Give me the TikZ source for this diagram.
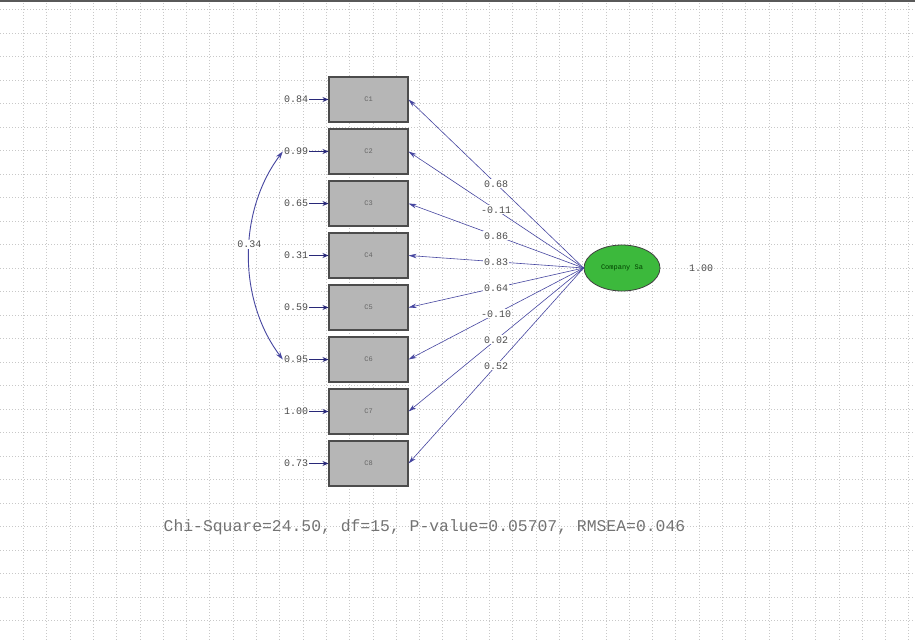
\documentclass[tikz,border=0pt]{standalone}
\usepackage{fontspec}
\newfontfamily\monofam{Liberation Mono}
\usetikzlibrary{arrows.meta,shapes.geometric}
\definecolor{arrowblue}{RGB}{70,70,160}
\definecolor{errblue}{RGB}{40,40,120}
\definecolor{boxgray}{RGB}{182,182,182}
\definecolor{latgreen}{RGB}{60,185,60}
\definecolor{gridgray}{RGB}{200,200,200}
\tikzset{
  obs/.style={draw=black!70, fill=boxgray, minimum width=79pt, minimum height=45pt,
    line width=1.1pt, inner sep=0pt, font=\monofam\fontsize{7}{8}\selectfont, text=black!60},
  errlab/.style={inner sep=1pt, font=\monofam\fontsize{10}{11}\selectfont, text=black!70},
  loadlab/.style={fill=white, inner sep=1pt, font=\monofam\fontsize{10}{11}\selectfont, text=black!70},
  latent/.style={ellipse, draw=black!75, fill=latgreen, minimum width=76pt, minimum height=46pt,
    inner sep=0pt, line width=0.8pt, font=\monofam\fontsize{7}{8}\selectfont, text=green!25!black},
  load/.style={draw=arrowblue, line width=0.6pt, -{Stealth[length=8pt,width=4.5pt]}},
  errarr/.style={draw=errblue, line width=1.3pt, -{Stealth[length=6pt,width=5pt]}},
  covarr/.style={draw=arrowblue, line width=0.9pt, {Stealth[length=8pt,width=5pt]}-{Stealth[length=8pt,width=5pt]}},
  gridline/.style={draw=gridgray, line width=0.5pt, dash pattern=on 1pt off 2pt}
}
\begin{document}
\begin{tikzpicture}[x=1pt,y=-1pt]
\useasboundingbox (0,0) rectangle (915,642);
\fill[white] (0,0) rectangle (915,642);
% grid
\foreach \k in {1,...,39} {\draw[gridline] ({23.3*\k},3) -- ({23.3*\k},642);}
\foreach \k in {0,...,27} {\draw[gridline] (0,{9.5+23.5*\k}) -- (915,{9.5+23.5*\k});}
\draw[black!65, line width=2pt] (0,1) -- (915,1);
% observed variables
\node[obs] (c1) at (368.5,99.5) {C1};
\node[obs] (c2) at (368.5,151.5) {C2};
\node[obs] (c3) at (368.5,203.5) {C3};
\node[obs] (c4) at (368.5,255.5) {C4};
\node[obs] (c5) at (368.5,307.5) {C5};
\node[obs] (c6) at (368.5,359.5) {C6};
\node[obs] (c7) at (368.5,411.5) {C7};
\node[obs] (c8) at (368.5,463.5) {C8};
% error variances
\node[errlab] (e1) at (296,99.5) {0.84};
\node[errlab] (e2) at (296,151.5) {0.99};
\node[errlab] (e3) at (296,203.5) {0.65};
\node[errlab] (e4) at (296,255.5) {0.31};
\node[errlab] (e5) at (296,307.5) {0.59};
\node[errlab] (e6) at (296,359.5) {0.95};
\node[errlab] (e7) at (296,411.5) {1.00};
\node[errlab] (e8) at (296,463.5) {0.73};
\foreach \i in {1,...,8} {\draw[errarr] (e\i.east) -- (c\i.west);}
% covariance
\draw[covarr] (e2.west) .. controls +(-45,60) and +(-45,-60) .. node[pos=0.45, loadlab] {0.34} (e6.west);
% latent
\node[latent] (lv) at (622,268) {Company Sa};
\node[errlab] (lvv) at (701,268) {1.00};
% loadings
\draw[load] (lv.west) -- node[loadlab, pos=0.5] {0.68} (c1.east);
\draw[load] (lv.west) -- node[loadlab, pos=0.5] {-0.11} (c2.east);
\draw[load] (lv.west) -- node[loadlab, pos=0.5] {0.86} (c3.east);
\draw[load] (lv.west) -- node[loadlab, pos=0.5] {0.83} (c4.east);
\draw[load] (lv.west) -- node[loadlab, pos=0.5] {0.64} (c5.east);
\draw[load] (lv.west) -- node[loadlab, pos=0.5] {-0.10} (c6.east);
\draw[load] (lv.west) -- node[loadlab, pos=0.5] {0.02} (c7.east);
\draw[load] (lv.west) -- node[loadlab, pos=0.5] {0.52} (c8.east);
% fit statistics
\node[font=\monofam\fontsize{16.4}{18}\selectfont, text=black!55] (fit) at (424.5,527)
  {Chi-Square=24.50, df=15, P-value=0.05707, RMSEA=0.046};
\end{tikzpicture}
\end{document}
